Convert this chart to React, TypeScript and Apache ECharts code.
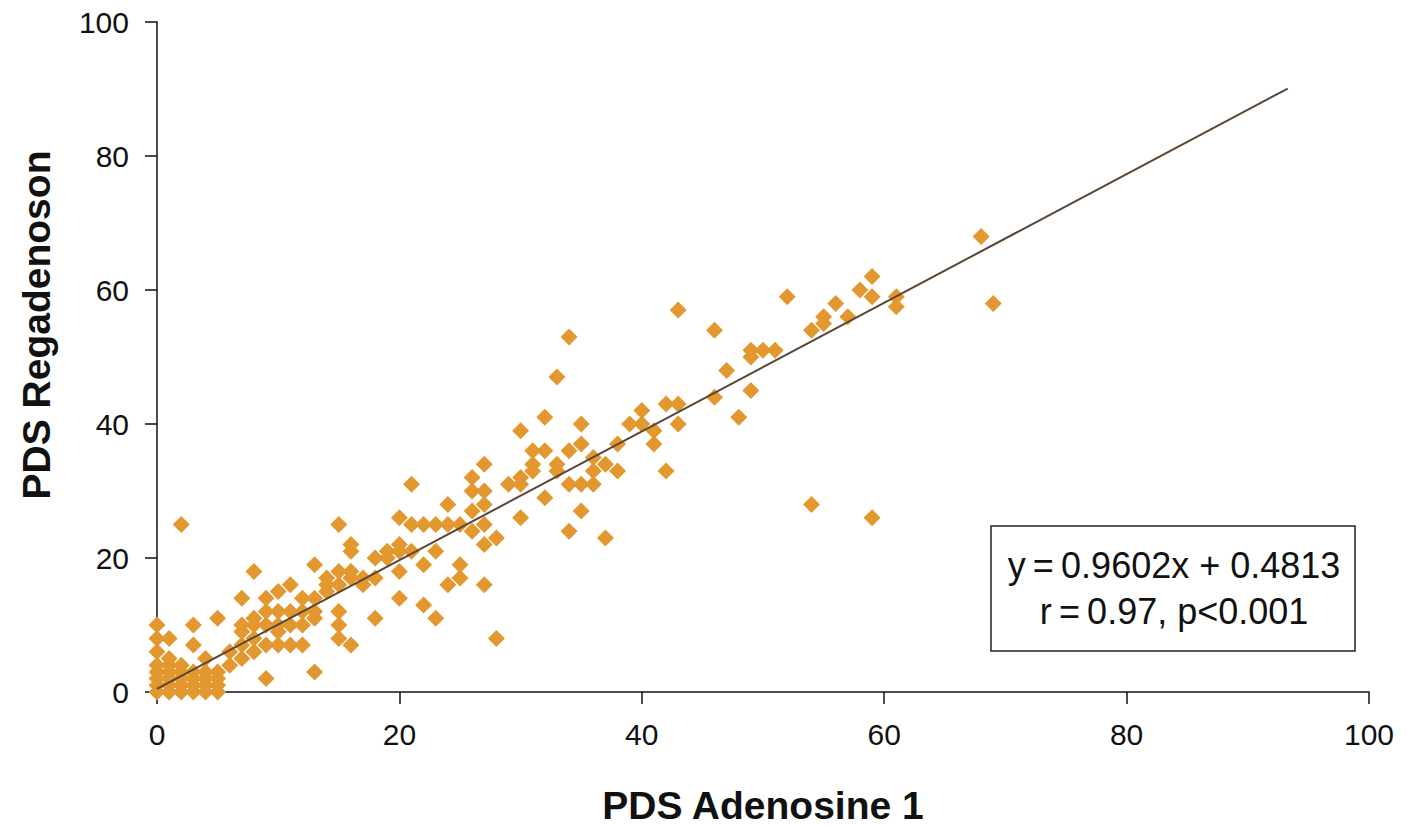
import React, { useEffect, useRef } from "react";
import * as echarts from "echarts";

// PDS Adenosine 1 (x) vs PDS Regadenoson (y)
const pdsAdenosine: number[] = [
  0, 0, 0, 0, 0, 0, 0, 0,
  1, 1, 1, 1, 1, 1, 1,
  2, 2, 2, 2, 2, 2,
  3, 3, 3, 3, 3, 3,
  4, 4, 4, 4, 4,
  5, 5, 5, 5, 5,
  6, 6, 7, 7, 7, 7, 7,
  8, 8, 8, 8, 8,
  9, 9, 9, 9, 9,
  10, 10, 10, 10, 10,
  11, 11, 11, 11,
  12, 12, 12, 12,
  13, 13, 13, 13, 13,
  14, 14, 14,
  15, 15, 15, 15, 15, 15,
  16, 16, 16, 16, 16,
  17, 17,
  18, 18, 18,
  19, 19,
  20, 20, 20, 20, 20,
  21, 21, 21,
  22, 22, 22,
  23, 23, 23,
  24, 24, 24,
  25, 25, 25,
  26, 26, 26, 26,
  27, 27, 27, 27, 27, 27,
  28, 28,
  29,
  30, 30, 30, 30,
  31, 31, 31,
  32, 32, 32,
  33, 33, 33,
  34, 34, 34, 34,
  35, 35, 35, 35,
  36, 36, 36,
  37, 37,
  38, 38,
  39,
  40, 40,
  41, 41,
  42, 42,
  43, 43, 43,
  46, 46,
  47,
  48,
  49, 49, 49,
  50,
  51,
  52,
  54, 54,
  55, 55,
  56,
  57,
  58,
  59, 59, 59,
  61, 61,
  68, 69,
];

const pdsRegadenoson: number[] = [
  0, 1, 2, 3, 4, 6, 8, 10,
  0, 1, 2, 3, 4, 5, 8,
  0, 1, 2, 3, 4, 25,
  0, 1, 2, 3, 7, 10,
  0, 1, 2, 3, 5,
  0, 1, 2, 3, 11,
  4, 6, 5, 7, 9, 10, 14,
  6, 8, 10, 11, 18,
  2, 7, 10, 12, 14,
  7, 9, 10, 12, 15,
  7, 10, 12, 16,
  7, 10, 12, 14,
  3, 11, 12, 14, 19,
  15, 17, 16,
  8, 10, 12, 16, 18, 25,
  7, 17, 18, 21, 22,
  16, 17,
  11, 17, 20,
  20, 21,
  14, 18, 21, 22, 26,
  21, 25, 31,
  13, 19, 25,
  11, 21, 25,
  16, 25, 28,
  17, 19, 25,
  24, 27, 30, 32,
  16, 22, 25, 28, 30, 34,
  8, 23,
  31,
  26, 31, 32, 39,
  33, 34, 36,
  29, 36, 41,
  33, 34, 47,
  24, 31, 36, 53,
  27, 31, 37, 40,
  31, 33, 35,
  23, 34,
  33, 37,
  40,
  40, 42,
  37, 39,
  33, 43,
  40, 43, 57,
  44, 54,
  48,
  41,
  45, 50, 51,
  51,
  51,
  59,
  28, 54,
  55, 56,
  58,
  56,
  60,
  26, 59, 62,
  57.5, 59,
  68, 58,
];

// Regression line end points (y = 0.9602x + 0.4813)
const fitX: number[] = [0, 93.3];
const fitY: number[] = [0.48, 90.07];

const xTicks: number[] = [0, 20, 40, 60, 80, 100];
const yTicks: number[] = [0, 20, 40, 60, 80, 100];

const xTitle = "PDS Adenosine 1";
const yTitle = "PDS Regadenoson";
const equationText = "y\u2009=\u20090.9602x + 0.4813";
const statsText = "r\u2009=\u20090.97, p<0.001";

const FONT = "'Liberation Sans', Arial, Helvetica, sans-serif";

export default function App() {
  const ref = useRef<HTMLDivElement>(null);

  useEffect(() => {
    document.body.style.margin = "0";
    if (!ref.current) return;
    const chart = echarts.init(ref.current, undefined, { renderer: "svg" });

    const points = pdsAdenosine.map((x, i) => [x, pdsRegadenoson[i]]);
    const fit = fitX.map((x, i) => [x, fitY[i]]);

    const axisCommon = {
      min: 0,
      max: 100,
      interval: 20,
      axisLine: { show: true, lineStyle: { color: "#111", width: 1.5 } },
      axisTick: { show: true, inside: false, length: 12, lineStyle: { color: "#111", width: 1.5 } },
      splitLine: { show: false },
    };

    chart.setOption({
      animation: false,
      backgroundColor: "#ffffff",
      grid: {
        left: 157,
        right: 38,
        top: 22,
        bottom: 136,
        containLabel: false,
        outerBoundsMode: "none",
      },
      xAxis: {
        ...axisCommon,
        type: "value",
        axisLabel: {
          margin: 27,
          fontFamily: FONT,
          fontSize: 30,
          color: "#111",
          formatter: (v: number) => (xTicks.includes(v) ? String(v) : ""),
        },
      },
      yAxis: {
        ...axisCommon,
        type: "value",
        axisLabel: {
          margin: 28,
          fontFamily: FONT,
          fontSize: 30,
          color: "#111",
          formatter: (v: number) => (yTicks.includes(v) ? String(v) : ""),
        },
      },
      series: [
        {
          type: "scatter",
          data: points,
          symbol: "diamond",
          symbolSize: 17,
          itemStyle: { color: "#E3982F", opacity: 1 },
          z: 2,
        },
        {
          type: "line",
          data: fit,
          showSymbol: false,
          symbol: "none",
          lineStyle: { color: "#5a4634", width: 2 },
          z: 3,
        },
      ],
      graphic: [
        {
          type: "text",
          x: 763,
          y: 805,
          style: {
            text: xTitle,
            fontFamily: FONT,
            fontWeight: "bold",
            fontSize: 39,
            fill: "#111",
            textAlign: "center",
            textVerticalAlign: "middle",
          },
        },
        {
          type: "text",
          x: 36,
          y: 325,
          rotation: Math.PI / 2,
          style: {
            text: yTitle,
            fontFamily: FONT,
            fontWeight: "bold",
            fontSize: 39,
            fill: "#111",
            textAlign: "center",
            textVerticalAlign: "middle",
          },
        },
        {
          type: "rect",
          shape: { x: 991, y: 526, width: 364, height: 125 },
          style: { fill: "#ffffff", stroke: "#222", lineWidth: 1.5 },
          z: 10,
        },
        {
          type: "text",
          x: 1174,
          y: 565,
          style: {
            text: equationText,
            fontFamily: FONT,
            fontSize: 36,
            fill: "#111",
            textAlign: "center",
            textVerticalAlign: "middle",
          },
          z: 11,
        },
        {
          type: "text",
          x: 1174,
          y: 611,
          style: {
            text: statsText,
            fontFamily: FONT,
            fontSize: 36,
            fill: "#111",
            textAlign: "center",
            textVerticalAlign: "middle",
          },
          z: 11,
        },
      ],
    });

    return () => chart.dispose();
  }, []);

  return <div ref={ref} style={{ width: 1407, height: 828 }} />;
}
